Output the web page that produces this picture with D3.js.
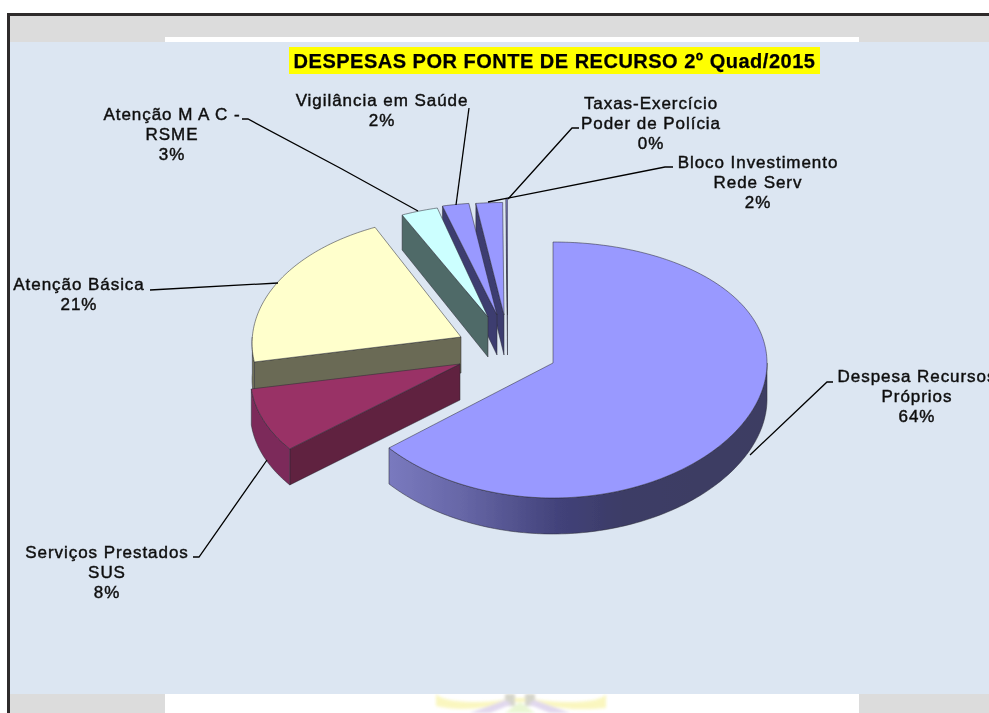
<!DOCTYPE html>
<html lang="pt">
<head>
<meta charset="utf-8">
<title>Despesas por fonte de recurso</title>
<script src="https://cdn.jsdelivr.net/npm/d3@7"></script>
<style>
html,body{margin:0;padding:0;background:#fff;overflow:hidden}
svg{display:block}
text{font-family:"Liberation Sans",Arial,sans-serif;fill:#111}
</style>
</head>
<body>
<svg id="chart" width="989" height="713" viewBox="0 0 989 713"></svg>
<script>
// ---- data ----
const chartTitle = "DESPESAS POR FONTE DE RECURSO 2º Quad/2015";
const categories = ["Despesa Recursos Próprios","Serviços Prestados SUS","Atenção Básica","Atenção M A C - RSME","Vigilância em Saúde","Bloco Investimento Rede Serv","Taxas-Exercício Poder de Polícia"];
const labelLines = [["Despesa Recursos","Próprios"],["Serviços Prestados","SUS"],["Atenção Básica"],["Atenção M A C -","RSME"],["Vigilância em Saúde"],["Bloco Investimento","Rede Serv"],["Taxas-Exercício","Poder de Polícia"]];
const values = [63.9,8,21,3,2,2,0.1];

// ---- styles ----
const topColors  = ["#9999ff","#993366","#ffffcc","#ccffff","#9999ff","#9999ff","#9999ff"];
const wallColors = ["#3d3d66","#60213f","#6b6b55","#506a68","#3d3d70","#3d3d70","#3d3d70"];
const rimColors  = ["url(#mainRim)","#7b2a5a","#77775c","#506a68","#3d3d70","#3d3d70","#3d3d70"];

// ---- layout of each exploded slice ----
const apexX   = [553,460,461,488,497,504,507.5];
const apexY   = [363,364,337,317,315,315,315];
const scaleX  = [1,0.975,0.975,0.93,1,1,1];
const skewX   = [0,0.1,0.05,0,0,0,0];
const scaleY  = [1,1,1,0.93,0.93,0.93,0.96];
const depthOuter = [36,36,36,35,35,35,35];
const depthApex  = [36,36,36,40,40,40,40];
const labelX = [917,107,79,172,382,758,651];
const labelY = [376,552,284,114,100,162,103];
const leaders = [
  [[750,455],[827,382],[833,382]],
  [[267,460],[199,557],[193,557]],
  [[278,283],[150,290]],
  [[418,211],[340,168],[248,119],[242,119]],
  [[456,205],[469,108]],
  [[488,202],[665,167],[673,167]],
  [[508,199],[572,128],[579,128]]
];

const svg = d3.select("#chart");
const defs = svg.append("defs");
const TAU = 2*Math.PI;

// ---- page background ----
svg.append("rect").attr("x",7).attr("y",13).attr("width",982).attr("height",700).attr("fill","#2e2b2b");
svg.append("rect").attr("x",10).attr("y",16).attr("width",979).attr("height",697).attr("fill","#dcdcdc");
svg.append("rect").attr("x",165).attr("y",37).attr("width",694).attr("height",10).attr("fill","#fff");
svg.append("rect").attr("x",165).attr("y",690).attr("width",694).attr("height",23).attr("fill","#fff");

// faint watermark crest below the panel
defs.append("filter").attr("id","soft").append("feGaussianBlur").attr("stdDeviation",1.6);
defs.append("filter").attr("id","scan").attr("x","-5%").attr("y","-5%").attr("width","110%").attr("height","110%")
  .append("feGaussianBlur").attr("stdDeviation",0.3);
const crest = svg.append("g").attr("filter","url(#soft)").attr("opacity",0.55);
crest.append("path").attr("d","M436 694 C445 704 490 704 510 698 L530 698 C555 704 600 704 606 694 L606 708 C570 712 545 706 535 702 L505 702 C490 708 460 712 436 706 Z").attr("fill","#f6f08c");
crest.append("path").attr("d","M505 694 h10 v12 h-10 Z M525 694 h10 v12 h-10 Z").attr("fill","#b4b4a0");
crest.append("path").attr("d","M470 713 L505 700 L512 704 L490 713 Z M570 713 L535 700 L528 704 L550 713 Z").attr("fill","#c8b8e0");
crest.append("path").attr("d","M505 713 L520 702 L535 713 Z").attr("fill","#d8f0b0");

svg.append("rect").attr("x",10).attr("y",42).attr("width",979).attr("height",652).attr("fill","#dce6f2");

// ---- title ----
const titleText = svg.append("g");
titleText.append("rect").attr("x",289).attr("y",47).attr("width",531).attr("height",27).attr("fill","#ffff00");
titleText.append("text").attr("x",554.5).attr("y",67.5).attr("text-anchor","middle").attr("filter","url(#scan)")
  .attr("font-size",20).attr("font-weight","bold").attr("letter-spacing",0.5)
  .attr("stroke","#000").attr("stroke-width",0.25).style("fill","#000").text(chartTitle);

// ---- pie, projected to a tilted plane ----
const pie = d3.pie().value(d => d).sort(null).startAngle(0).endAngle(TAU);
const arcs = pie(values);
const ellipseX = d3.scaleLinear().domain([-1,1]).range([-214,214]);
const ellipseY = d3.scaleLinear().domain([-1,1]).range([-127.6,127.6]);
const persp = 0.0547;
const project = (i,a,drop=0) => {
  const v = -Math.cos(a);
  return [apexX[i] + scaleX[i]*(1+skewX[i]*v)*ellipseX(Math.sin(a)),
          apexY[i] + scaleY[i]*ellipseY(v)/(1-persp*v) + drop];
};
const arcPoints = (i,a0,a1,drop=0) => {
  const n = Math.max(2,Math.ceil((a1-a0)/0.02));
  return d3.range(n+1).map(k => project(i,a0+(a1-a0)*k/n,drop));
};
const path = d3.line();

const rim = defs.append("linearGradient").attr("id","mainRim").attr("gradientUnits","userSpaceOnUse")
  .attr("x1",388).attr("x2",767).attr("y1",0).attr("y2",0);
[[0,"#7a7abf"],[0.2,"#6666a6"],[0.45,"#42427a"],[0.62,"#3c3c66"],[1,"#3c3c62"]]
  .forEach(([o,c]) => rim.append("stop").attr("offset",o).attr("stop-color",c));

const edge = s => s.attr("stroke","#2a2a33").attr("stroke-width",0.7).attr("stroke-opacity",0.75).attr("stroke-linejoin","round");

// later slices lie behind earlier ones, so paint from the last small slice forward
const paintOrder = [6,5,4,3,2,1,0];
const slices = svg.append("g").attr("filter","url(#scan)");
paintOrder.forEach(i => {
  const a0 = arcs[i].startAngle, a1 = arcs[i].endAngle;
  const g = slices.append("g").attr("class","slice");
  const apex = [apexX[i],apexY[i]];
  const apexLow = [apexX[i],apexY[i]+depthApex[i]];
  // visible radial wall on the starting edge
  if (Math.sin(a0) < -1e-6) {
    const outer = project(i,a0), outerLow = project(i,a0,depthOuter[i]);
    g.append("path").attr("d",path([apex,outer,outerLow,apexLow])+"Z").attr("fill",wallColors[i]).call(edge);
  }
  // visible outer rim (the part of the arc facing the viewer)
  const r0 = Math.max(a0,Math.PI/2), r1 = Math.min(a1,1.5*Math.PI);
  if (r1 > r0) {
    const top = arcPoints(i,r0,r1), low = arcPoints(i,r0,r1,depthOuter[i]).reverse();
    g.append("path").attr("d",path(top.concat(low))+"Z").attr("fill",rimColors[i]).call(edge);
  }
  // top face
  g.append("path").attr("d",path([apex].concat(arcPoints(i,a0,a1)))+"Z").attr("fill",topColors[i]).call(edge);
});

// ---- leader lines ----
svg.append("g").selectAll("path").data(leaders).join("path")
  .attr("d",d => path(d)).attr("fill","none").attr("stroke","#000").attr("stroke-width",1.3);

// ---- labels ----
const fmt = d3.format(".0%");
const labels = svg.append("g").attr("filter","url(#scan)");
values.forEach((val,i) => {
  const lines = labelLines[i].concat(fmt(val/100));
  const t = labels.append("text").attr("text-anchor","middle").attr("font-size",17)
    .attr("letter-spacing",0.95).attr("stroke","#111").attr("stroke-width",0.45);
  lines.forEach((s,k) => {
    t.append("tspan").attr("x",labelX[i]).attr("y",labelY[i]+6+k*20).text(s);
  });
  t.append("title").text(categories[i]);
});
</script>
</body>
</html>
